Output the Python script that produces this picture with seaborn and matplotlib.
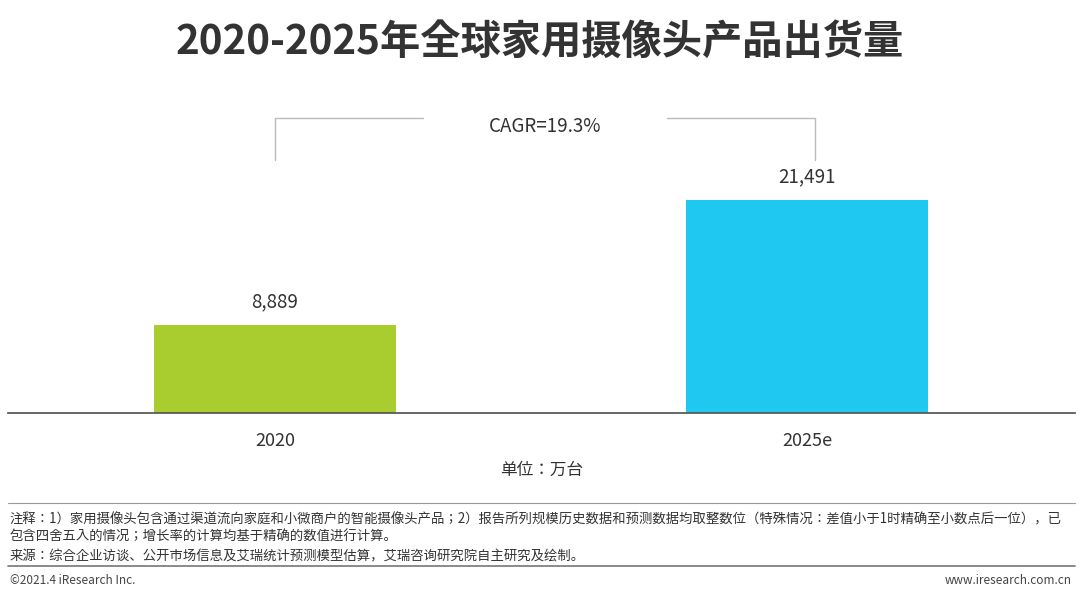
import matplotlib
matplotlib.use("Agg")
import matplotlib.pyplot as plt
import seaborn as sns
import pandas as pd
from matplotlib.lines import Line2D
from matplotlib import font_manager as fm

categories = ["2020", "2025e"]
values = [8889, 21491]
labels = ["8,889", "21,491"]
colors = ["#A9CC2F", "#1FC8F1"]

cjk = [f.name for f in fm.fontManager.ttflist if "CJK" in f.name]
pref = [n for n in ["Noto Sans CJK SC", "Noto Sans CJK JP"] if n in cjk]
fam = pref[0] if pref else (cjk[0] if cjk else "DejaVu Sans")
sns.set_theme(style="white", font=fam)
plt.rcParams["font.family"] = [fam, "DejaVu Sans"]
plt.rcParams["font.sans-serif"] = [fam, "DejaVu Sans"]

W, H = 1080, 601
fig = plt.figure(figsize=(W/100, H/100), dpi=100)
def fy(y): return 1 - y/H
def fx(x): return x/W

ax = fig.add_axes([fx(8), fy(413), fx(1075)-fx(8), fy(90)-fy(413)])
df = pd.DataFrame({"cat": categories, "val": values})
sns.barplot(data=df, x="cat", y="val", hue="cat", palette=colors, width=0.455,
            legend=False, ax=ax, saturation=1, linewidth=0)
ax.set_xlim(-0.502, 1.504)
ax.set_ylim(0, 32590)
for i, (v, l) in enumerate(zip(values, labels)):
    ax.text(i, v + 1300, l, ha="center", va="bottom", fontsize=13.5, color="#333333")
for s in ["top", "right", "left"]:
    ax.spines[s].set_visible(False)
ax.spines["bottom"].set_color("#555555")
ax.set_yticks([])
ax.set_xlabel("单位：万台", fontsize=12, color="#333333", labelpad=8)
ax.set_ylabel("")
ax.tick_params(axis="x", length=0, labelsize=13, labelcolor="#333333", pad=14)

fig.text(0.5, fy(42), "2020-2025年全球家用摄像头产品出货量", ha="center", va="center",
         fontsize=29, fontweight="bold", color="#333333")

gc = "#BBBBBB"
for xs, ys in [([275, 275, 423], [160, 118, 118]), ([667, 815, 815], [118, 118, 160])]:
    fig.add_artist(Line2D([fx(x) for x in xs], [fy(y) for y in ys], color=gc, lw=1))
fig.text(fx(545), fy(126), "CAGR=19.3%", ha="center", va="center", fontsize=13.5, color="#333333")

fig.add_artist(Line2D([fx(8), fx(1075)], [fy(503), fy(503)], color="#999999", lw=0.8))
fs = 9.6
fig.text(fx(10), fy(519), "注释：1）家用摄像头包含通过渠道流向家庭和小微商户的智能摄像头产品；2）报告所列规模历史数据和预测数据均取整数位（特殊情况：差值小于1时精确至小数点后一位），已",
         fontsize=fs, va="center", color="#333333")
fig.text(fx(10), fy(537), "包含四舍五入的情况；增长率的计算均基于精确的数值进行计算。",
         fontsize=fs, va="center", color="#333333")
fig.text(fx(10), fy(556), "来源：综合企业访谈、公开市场信息及艾瑞统计预测模型估算，艾瑞咨询研究院自主研究及绘制。",
         fontsize=fs, va="center", color="#333333")
fig.add_artist(Line2D([fx(8), fx(1075)], [fy(566), fy(566)], color="#777777", lw=1.2))
fig.text(fx(10), fy(580), "©2021.4 iResearch Inc.", fontsize=8.5, va="center", color="#444444")
fig.text(fx(1072), fy(580), "www.iresearch.com.cn", fontsize=8.5, va="center", ha="right", color="#444444")

fig.savefig("out.png", dpi=100)
